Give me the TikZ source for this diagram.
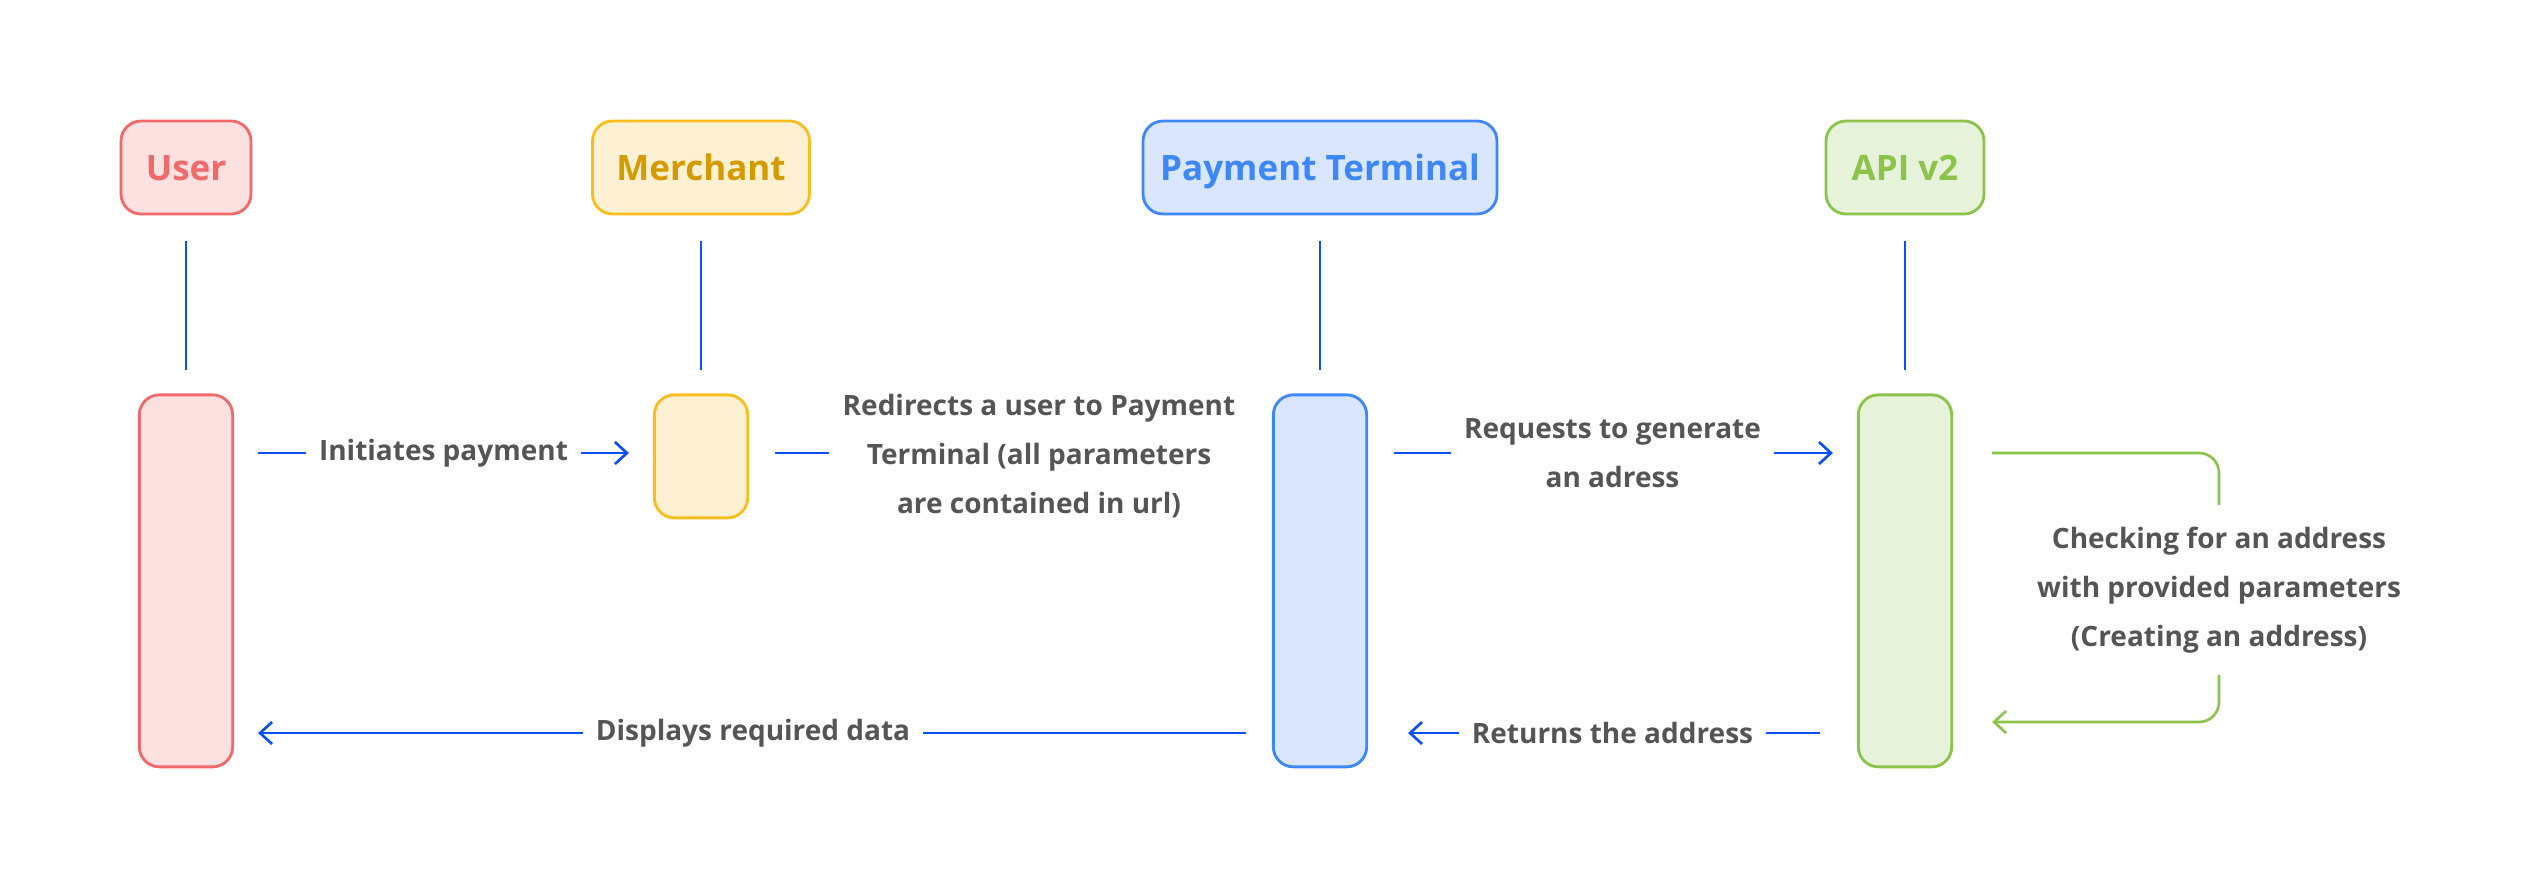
\documentclass[tikz,border=0pt]{standalone}
\usepackage{fontspec}
\setmainfont{Open Sans}
\usetikzlibrary{arrows.meta, positioning}

\definecolor{userred}{HTML}{F06A6A}
\definecolor{userfill}{HTML}{FDE1E1}
\definecolor{merchline}{HTML}{F7BE1E}
\definecolor{merchfill}{HTML}{FEF1D3}
\definecolor{merchtext}{HTML}{D49B00}
\definecolor{termblue}{HTML}{3D87F6}
\definecolor{termfill}{HTML}{D9E6FD}
\definecolor{apigreen}{HTML}{8CC34B}
\definecolor{apifill}{HTML}{E6F2DA}
\definecolor{msgblue}{HTML}{0B50F5}
\definecolor{msgtext}{HTML}{555555}

\tikzset{
  actor/.style={draw, rounded corners=6pt, line width=0.85pt,
    minimum height=27.9pt, text height=7.5pt, text depth=0pt,
    font=\fontsize{10.5}{12}\selectfont\bfseries},
  activation/.style={draw, rounded corners=6pt, line width=0.85pt,
    minimum width=28pt},
  lifeline/.style={msgblue, line width=0.8pt,
    shorten <=7.8pt, shorten >=6.9pt},
  msg/.style={msgblue, line width=0.8pt,
    -{Straight Barb[length=3.6pt, width=6.6pt]}},
  msglabel/.style={fill=white, text=msgtext, align=center, inner xsep=4pt,
    font=\fontsize{8.4}{14.8}\selectfont\bfseries}
}

\begin{document}
\begin{tikzpicture}[x=0.3pt, y=-0.3pt]
  \useasboundingbox (0,0) rectangle (2538,888);

  % actors
  \node[actor, draw=userred, fill=userfill, text=userred,
        minimum width=39pt] (huser) at (186,167.5) {User};
  \node[actor, draw=merchline, fill=merchfill, text=merchtext,
        minimum width=65.1pt] (hmer) at (701,167.5) {Merchant};
  \node[actor, draw=termblue, fill=termfill, text=termblue,
        minimum width=106.2pt] (hterm) at (1320,167.5) {Payment Terminal};
  \node[actor, draw=apigreen, fill=apifill, text=apigreen,
        minimum width=47.4pt] (hapi) at (1905,167.5) {API v2};

  % activation bars
  \node[activation, draw=userred, fill=userfill, minimum height=111.6pt,
        below=53.4pt of huser] (auser) {};
  \node[activation, draw=merchline, fill=merchfill, minimum height=36.9pt,
        below=53.4pt of hmer] (amer) {};
  \node[activation, draw=termblue, fill=termfill, minimum height=111.6pt,
        below=53.4pt of hterm] (aterm) {};
  \node[activation, draw=apigreen, fill=apifill, minimum height=111.6pt,
        below=53.4pt of hapi] (aapi) {};

  \foreach \n in {user, mer, term, api}
    \draw[lifeline] (h\n) -- (a\n);

  \coordinate (req) at (0,453);
  \coordinate (resp) at (0,733);
  \coordinate (back) at (0,722);

  % requests
  \draw[msg, shorten <=7.2pt, shorten >=7.2pt] (auser.east |- req)
    -- node[msglabel] {Initiates payment} (amer.west |- req);
  \node[msglabel] (lredir) at (1039,456)
    {Redirects a user to Payment\\Terminal (all parameters\\are contained in url)};
  \draw[msg, -, shorten <=7.8pt] (amer.east |- req) -- (lredir.west |- req);
  \draw[msg, shorten <=7.8pt, shorten >=7.2pt] (aterm.east |- req)
    -- node[msglabel] {Requests to generate\\an adress} (aapi.west |- req);

  % self check on the api
  \node[msglabel, minimum height=50.7pt] (lcheck) at (2219,590)
    {Checking for an address\\with provided parameters\\(Creating an address)};
  \draw[msg, apigreen, rounded corners=6pt]
    ([xshift=11.7pt]aapi.east |- req) -| (lcheck)
    |- ([xshift=11.7pt]aapi.east |- back);

  % responses
  \draw[msg, shorten <=11.1pt, shorten >=12pt] (aapi.west |- resp)
    -- node[msglabel] {Returns the address} (aterm.east |- resp);
  \draw[msg, shorten <=7.8pt, shorten >=7.2pt] (aterm.west |- resp)
    -- node[msglabel] {Displays required data} (auser.east |- resp);
\end{tikzpicture}
\end{document}
